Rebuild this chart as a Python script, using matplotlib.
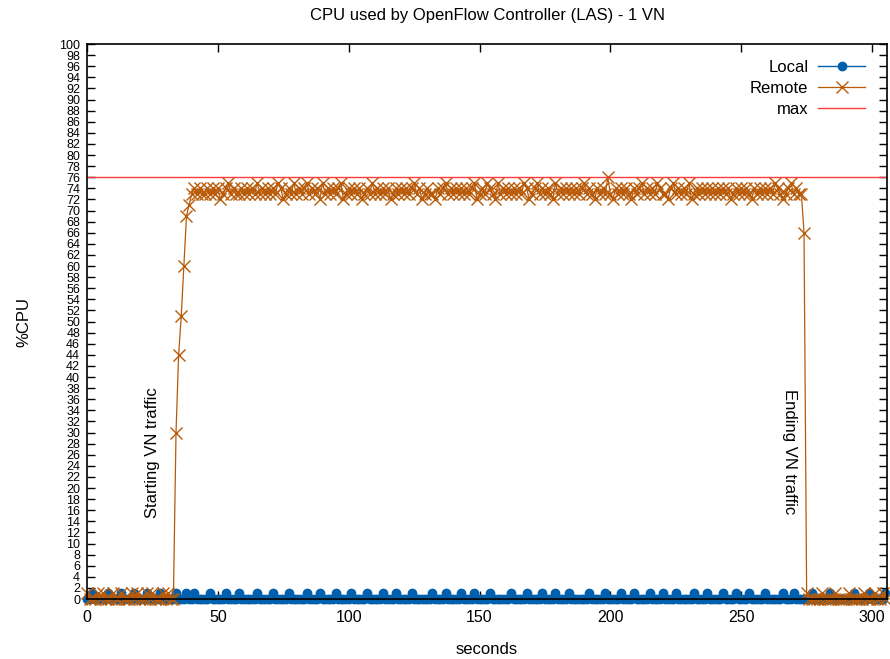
import numpy as np
import matplotlib
matplotlib.use('Agg')
import matplotlib.pyplot as plt

plt.rcParams['font.family'] = ['Liberation Sans', 'DejaVu Sans']

# one sample per second
seconds = np.arange(0, 306)

# Remote controller CPU (%), split by phase
remote_idle_start = [1, 0, 0, 0, 1, 0, 1, 0, 0, 0,
                     1, 0, 0, 1, 0, 0, 0, 1, 0, 1,
                     0, 0, 0, 1, 0, 1, 0, 0, 0, 1,
                     0, 1, 0, 0]                      # t = 0..33
remote_ramp = [30, 44, 51, 60, 69, 71]               # t = 34..39
remote_load = [73, 74, 73, 74, 73, 73, 74, 73, 74, 73,
               74, 72, 73, 74, 75, 73, 74, 73, 73, 74,
               73, 74, 73, 74, 73, 75, 73, 74, 73, 74,
               73, 74, 73, 75, 74, 72, 73, 74, 73, 75,
               73, 74, 73, 74, 75, 73, 74, 73, 74, 72,
               75, 73, 74, 73, 74, 73, 74, 75, 72, 73,
               74, 73, 74, 73, 74, 72, 73, 74, 73, 75,
               73, 74, 73, 74, 73, 74, 72, 73, 74, 73,
               74, 73, 74, 73, 74, 75, 73, 74, 72, 73,
               74, 73, 73, 72, 74, 73, 74, 75, 73, 74,
               73, 74, 73, 74, 73, 74, 73, 74, 75, 72,
               73, 74, 73, 75, 74, 73, 72, 75, 73, 74,
               73, 74, 73, 74, 73, 74, 73, 75, 74, 72,
               73, 74, 75, 73, 74, 73, 74, 73, 72, 75,
               73, 74, 73, 74, 73, 74, 73, 74, 73, 74,
               75, 73, 74, 73, 72, 74, 73, 74, 73, 76,
               73, 72, 74, 73, 74, 73, 74, 73, 72, 74,
               73, 74, 75, 73, 74, 73, 74, 73, 75, 74,
               73, 73, 72, 74, 75, 73, 74, 73, 74, 73,
               75, 72, 73, 74, 73, 74, 73, 74, 73, 74,
               73, 74, 73, 74, 73, 74, 72, 73, 74, 73,
               74, 73, 74, 73, 72, 74, 73, 74, 73, 74,
               73, 74, 73, 75, 74, 73, 72, 73, 74, 75,
               73, 74, 73, 73]                        # t = 40..273
remote_stop = [66]                                   # t = 274
remote_idle_end = [1, 0, 0, 0, 0, 0, 1, 0, 0, 0,
                   0, 1, 0, 0, 0, 0, 1, 0, 0, 0,
                   0, 0, 1, 0, 0, 0, 1, 0, 0, 1,
                   0]                                 # t = 275..305

remote = np.array(remote_idle_start + remote_ramp + remote_load
                  + remote_stop + remote_idle_end)

# Local controller CPU: 1% at these seconds, 0% otherwise
local_busy = [2, 8, 13, 18, 23, 28, 34, 38, 41, 47, 53, 58, 65, 71, 77,
              84, 89, 95, 101, 107, 113, 118, 124, 132, 137, 143, 148,
              154, 162, 168, 174, 179, 184, 192, 198, 204, 209, 215, 220,
              225, 232, 237, 243, 248, 253, 259, 266, 270, 277, 284, 293,
              299, 305]
local = np.zeros(len(seconds))
local[local_busy] = 1

max_cpu = 76

fig = plt.figure(figsize=(8.9, 6.59), dpi=100)
ax = fig.add_axes([0.0978, 0.091, 0.8988, 0.8422])

ax.plot(seconds, local, color='#0060ad', lw=1.0, marker='o', ms=6,
        label='Local', clip_on=False)
ax.plot(seconds, remote, color='#b85a08', lw=0.9, marker='x', ms=8.5,
        mew=1.0, label='Remote', clip_on=False)
ax.axhline(max_cpu, color='#ff3a3a', lw=1.0, label='max')

ax.text(25.2, 26.3, 'Starting VN traffic', rotation=90, ha='center',
        va='center', fontsize=12)
ax.text(268.6, 26.5, 'Ending VN traffic', rotation=270, ha='center',
        va='center', fontsize=12)

ax.set_xlim(0, 305.7)
ax.set_ylim(0, 100)
ax.set_xticks(np.arange(0, 301, 50))
ax.set_yticks(np.arange(0, 101, 2))
ax.tick_params(axis='y', labelsize=9, direction='in', length=6,
               right=True, width=1.0, pad=5)
ax.tick_params(axis='x', labelsize=11.5, direction='in', length=6,
               top=True, width=1.0, pad=8)
for s in ax.spines.values():
    s.set_linewidth(1.2)
    s.set_zorder(5)

ax.set_title('CPU used by OpenFlow Controller (LAS) - 1 VN', fontsize=12,
             pad=17)
ax.set_xlabel('seconds', fontsize=12, labelpad=12)
ax.set_ylabel('%CPU', fontsize=12, labelpad=20)

ax.legend(loc='upper right', frameon=False, markerfirst=False,
          alignment='right', fontsize=12, handlelength=2.8,
          labelspacing=0.38, handletextpad=0.6,
          bbox_to_anchor=(0.985, 0.99), borderaxespad=0.2)

fig.savefig('out.png', dpi=100)
